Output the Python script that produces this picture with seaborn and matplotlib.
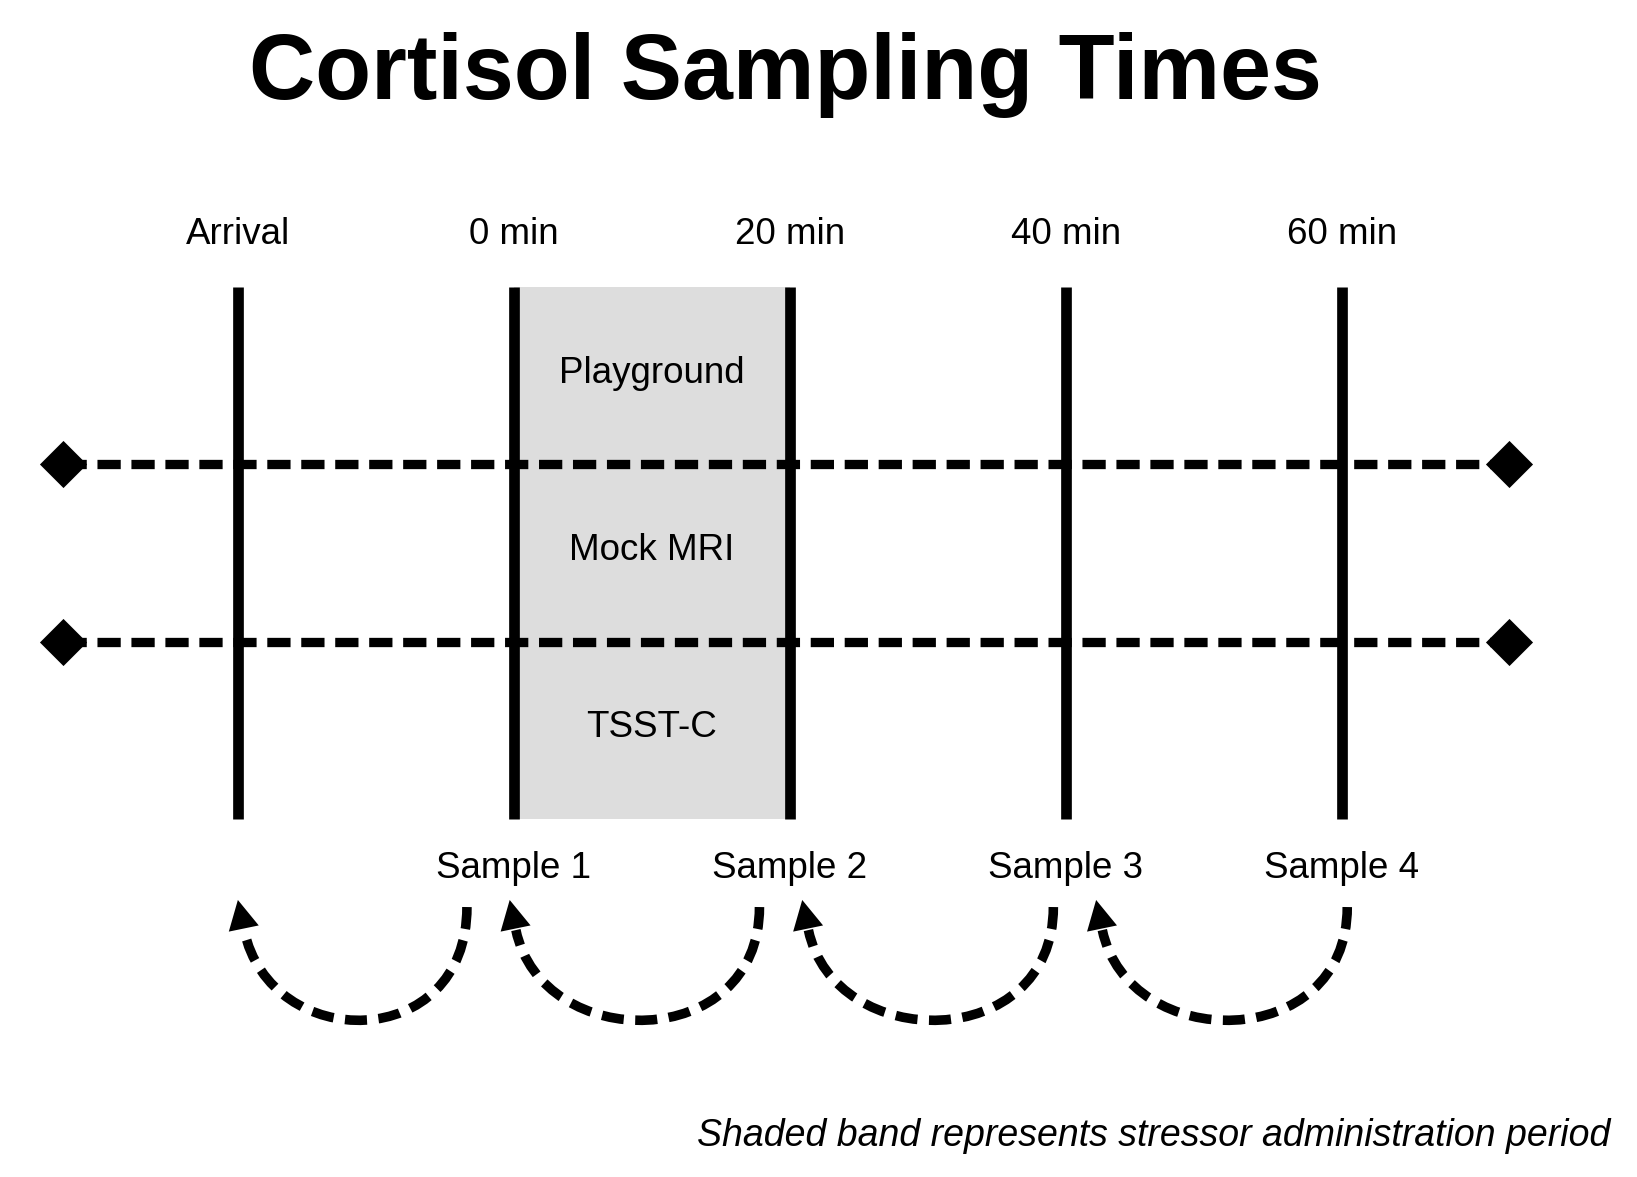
import numpy as np
import pandas as pd
import matplotlib
matplotlib.use("Agg")
import matplotlib.pyplot as plt
import seaborn as sns
from matplotlib.path import Path
from matplotlib.patches import FancyArrowPatch

# time points (minutes, arrival drawn one step before 0)
time_points = [-20, 0, 20, 40, 60]
time_labels = ["Arrival", "0 min", "20 min", "40 min", "60 min"]
sample_labels = ["", "Sample 1", "Sample 2", "Sample 3", "Sample 4"]
conditions = ["Playground", "Mock MRI", "TSST-C"]
stress_start, stress_end = 0, 20
track_start, track_end = -32.7, 72.1
# curved arrows: from sample k back to the previous time point
arc_from = [-3.4, 17.8, 39.1, 60.4]
arc_to = [-20.0, -0.3, 20.9, 42.2]

sns.set_theme(style="white")
plt.rcParams["font.family"] = ["Liberation Sans", "DejaVu Sans"]
plt.rcParams["text.color"] = "black"

fig = plt.figure(figsize=(16.37, 11.77), dpi=100)
ax = fig.add_axes([0, 0, 1, 1])
ax.set_xlim(-37.24, 81.4)
ax.set_ylim(4.525, -2.124)
ax.axis("off")

# shaded stressor band
ax.fill_between([stress_start, stress_end], -0.5, 2.5, color="#dddddd", zorder=0, lw=0)

# dashed separators with diamond ends
sep = pd.DataFrame({"x": [track_start, track_end] * 2,
                    "y": [0.5, 0.5, 1.5, 1.5],
                    "row": ["a", "a", "b", "b"]})
for r, d in sep.groupby("row"):
    sns.lineplot(data=d, x="x", y="y", ax=ax, color="black", lw=6.7,
                 linestyle=(0, (2.5, 1.15)), zorder=2, estimator=None,
                 sort=False)
    sns.scatterplot(data=d, x="x", y="y", ax=ax, color="black", marker="D",
                    s=24 ** 2, zorder=4, linewidth=0)

# vertical time lines
ax.vlines(time_points, -0.5, 2.5, color="black", lw=7.7, zorder=3)

for t, lab in zip(time_points, time_labels):
    ax.text(t, -0.80, lab, ha="center", va="center", fontsize=26.5, color="black")
for t, lab in zip(time_points, sample_labels):
    if lab:
        ax.text(t, 2.785, lab, ha="center", va="center", fontsize=26.5, color="black")

mid = (stress_start + stress_end) / 2
for i, c in enumerate(conditions):
    ax.text(mid, i - 0.015, c, ha="center", va="center", fontsize=26.5, color="black")

# arrows: dashed curve + solid head
y0, k = 3.0, 0.83
for a, b in zip(arc_from, arc_to):
    tip = (b, 2.96)
    base = (b + 0.45, 3.13)
    p2 = (b + 0.45 + 0.45 * 4.2, y0 + k)
    verts = [(a, y0), (a, y0 + k), p2, base]
    codes = [Path.MOVETO, Path.CURVE4, Path.CURVE4, Path.CURVE4]
    shaft = FancyArrowPatch(path=Path(verts, codes), arrowstyle="-",
                            color="black", lw=6.9, capstyle="butt",
                            linestyle=(0, (2.3, 1.2)), zorder=3)
    ax.add_patch(shaft)
    head = FancyArrowPatch(posA=base, posB=tip, arrowstyle="-|>,head_length=21,head_width=11",
                           mutation_scale=1, shrinkA=0, shrinkB=0,
                           color="black", lw=0, zorder=4)
    ax.add_patch(head)

ax.text(19.7, -1.70, "Cortisol Sampling Times",
        ha="center", va="center", fontsize=66, fontweight="bold", color="black")
ax.text(0.9835, 0.035, "Shaded band represents stressor administration period",
        transform=ax.transAxes, ha="right", va="center", fontsize=27,
        style="italic", color="black")

fig.savefig("out.png", dpi=100, facecolor="white")
